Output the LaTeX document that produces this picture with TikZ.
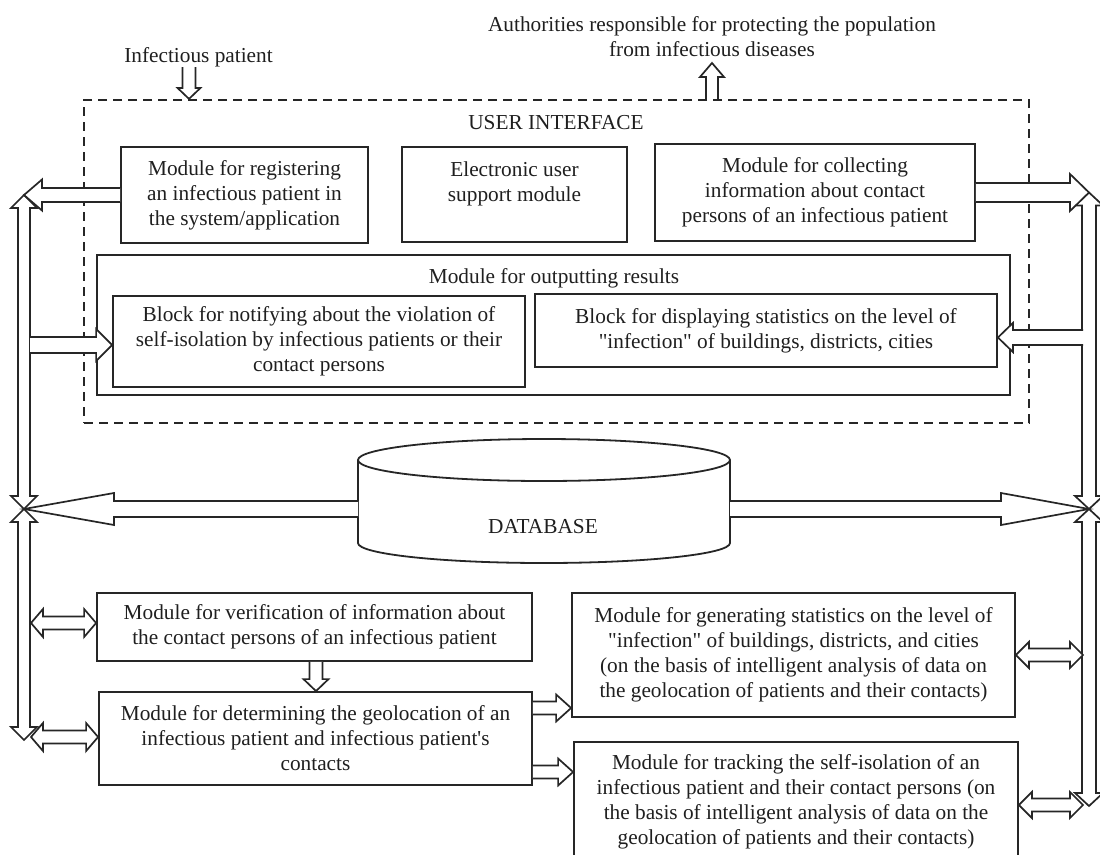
\documentclass[tikz,border=0pt]{standalone}
\usepackage{fontspec}
\setmainfont{Liberation Serif}[Ligatures=TeXOff]
\usetikzlibrary{calc}
\newcommand\figfont{\fontsize{21.3}{25}\selectfont}
\newcommand\arwpt[2]{([shift={(\p1)},rotate=\n1]#1,#2)}
\begin{document}
\begin{tikzpicture}[x=1pt,y=-1pt,
  box/.style={draw=black!85, line width=1.8pt, inner sep=0pt, align=center, font=\figfont, text=black!88},
  txt/.style={inner sep=0pt, align=center, font=\figfont, text=black!88},
  dbline/.style={draw=black!85, line width=1.8pt},
  ashaft/.store in=\ashaft, ahead/.store in=\ahead, alen/.store in=\alen,
  ashaft=7, ahead=15, alen=16,
  blk/.style={draw=black!85, line width=1.7pt, fill=white, line join=miter},
  onearrow/.style={blk, to path={let \p1=(\tikztostart), \p2=(\tikztotarget),
     \n1={atan2(\y2-\y1,\x2-\x1)}, \n2={veclen(\x2-\x1,\y2-\y1)} in
     \arwpt{0pt}{\ashaft pt} -- \arwpt{\n2-\alen pt}{\ashaft pt} -- \arwpt{\n2-\alen pt}{\ahead pt}
     -- \arwpt{\n2+0pt}{0pt} -- \arwpt{\n2-\alen pt}{-\ahead pt} -- \arwpt{\n2-\alen pt}{-\ashaft pt}
     -- \arwpt{0pt}{-\ashaft pt}}},
  twoarrow/.style={blk, to path={let \p1=(\tikztostart), \p2=(\tikztotarget),
     \n1={atan2(\y2-\y1,\x2-\x1)}, \n2={veclen(\x2-\x1,\y2-\y1)} in
     \arwpt{\alen pt}{\ashaft pt} -- \arwpt{\n2-\alen pt}{\ashaft pt} -- \arwpt{\n2-\alen pt}{\ahead pt}
     -- \arwpt{\n2+0pt}{0pt} -- \arwpt{\n2-\alen pt}{-\ahead pt} -- \arwpt{\n2-\alen pt}{-\ashaft pt}
     -- \arwpt{\alen pt}{-\ashaft pt} -- \arwpt{\alen pt}{-\ahead pt} -- \arwpt{0pt}{0pt}
     -- \arwpt{\alen pt}{\ahead pt} -- cycle}}
]
\useasboundingbox (0,0) rectangle (1100,854);
\clip (0,0) rectangle (1100,854);

% ---------- top texts ----------
\node[txt] (auth) at (712,37) {Authorities responsible for protecting the population\\from infectious diseases};
\node[txt] (ip) at (198.5,57) {Infectious patient};

% ---------- user interface ----------
\node[draw=black!85, line width=2.2pt, dash pattern=on 9pt off 6pt, inner sep=0pt,
      minimum width=945pt, minimum height=323pt] (ui) at (556.5,261.5) {};
\node[txt] (uit) at (556,123) {USER INTERFACE};
\node[box, minimum width=247pt, minimum height=96pt] (reg) at (244.5,195)
  {Module for registering\\an infectious patient in\\the system/application};
\node[box, minimum width=225pt, minimum height=95pt] (eus) at (514.5,194.5) {};
\node[txt] (eust) at (514.5,183.5) {Electronic user\\support module};
\node[box, minimum width=320pt, minimum height=97pt] (col) at (815,192.5)
  {Module for collecting\\information about contact\\persons of an infectious patient};
\node[box, minimum width=913pt, minimum height=140pt] (out) at (553.5,325) {};
\node[txt] (outt) at (554,278) {Module for outputting results};
\node[box, minimum width=412pt, minimum height=91pt] (notif) at (319,341.5)
  {Block for notifying about the violation of\\self-isolation by infectious patients or their\\contact persons};
\node[box, minimum width=462pt, minimum height=73pt] (disp) at (766,330.5)
  {Block for displaying statistics on the level of\\"infection" of buildings, districts, cities};

% ---------- database ----------
\draw[dbline] (358,460) -- (358,543) arc[start angle=180, end angle=360, x radius=186pt, y radius=20pt] -- (730,460);
\draw[dbline] (544,460) ellipse[x radius=186pt, y radius=21pt];
\node[txt] (db) at (543,527) {DATABASE};
\coordinate (dbL) at (358,509);
\coordinate (dbR) at (730,509);

% ---------- lower modules ----------
\node[box, minimum width=435pt, minimum height=68pt] (ver) at (314.5,627)
  {Module for verification of information about\\the contact persons of an infectious patient};
\node[box, minimum width=433pt, minimum height=93pt] (det) at (315.5,738.5)
  {Module for determining the geolocation of an\\infectious patient and infectious patient's\\contacts};
\node[box, minimum width=443pt, minimum height=124pt] (gen) at (793.5,655)
  {Module for generating statistics on the level of\\"infection" of buildings, districts, and cities\\(on the basis of intelligent analysis of data on\\the geolocation of patients and their contacts)};
\node[box, minimum width=444pt, minimum height=120pt, anchor=north] (trk) at (796,741)
  {Module for tracking the self-isolation of an\\infectious patient and their contact persons (on\\the basis of intelligent analysis of data on the\\geolocation of patients and their contacts)};

% ---------- coordinates ----------
\coordinate (jL) at (24,509);
\coordinate (jR) at (1089,509);
\coordinate (tL) at (24,195);
\coordinate (tR) at (col.east -| jR);
\coordinate (bL) at (24,740);
\coordinate (bR) at (1089,806);
\coordinate (ipa) at (189,67);
\coordinate (aa) at (712,63);
\coordinate (nL) at (30,345);
\coordinate (dR) at (1083,337.5);
\coordinate (vL) at (31,623);
\coordinate (dL) at (31,737);
\coordinate (vd) at (316,0);
\coordinate (y708) at (0,708);
\coordinate (y772) at (0,772);
\coordinate (y805) at (0,805);
\coordinate (rvx) at (1083,0);

% ---------- vertical buses ----------
\draw[twoarrow, ashaft=6, ahead=13, alen=13] (jL) to (tL);
\draw[twoarrow, ashaft=6, ahead=13, alen=13] (jL) to (bL);
\draw[twoarrow, ashaft=7, ahead=14, alen=13] (jR) to (tR);
\draw[twoarrow, ashaft=7, ahead=14, alen=13] (jR) to (bR);

% ---------- arrows ----------
\draw[onearrow, ashaft=6.5, ahead=11.5, alen=11] (ipa) to (ipa |- ui.north);
\draw[onearrow, ashaft=6, ahead=12, alen=14] (aa |- ui.north) to (aa);
\draw[onearrow, ashaft=7, ahead=15.5, alen=18] (reg.west) to (tL);
\draw[onearrow, ashaft=9.5, ahead=18.5, alen=19] (col.east) to (tR);
\draw[onearrow, ashaft=8, ahead=16, alen=16] (nL) to (nL -| notif.west);
\draw[onearrow, ashaft=7.5, ahead=14.5, alen=15] (dR) to (dR -| disp.east);
\draw[onearrow, ashaft=8, ahead=16, alen=90] (dbL) to (jL);
\draw[onearrow, ashaft=8, ahead=16, alen=88] (dbR) to (jR);

\draw[twoarrow, ashaft=6.5, ahead=14, alen=12] (vL) to (vL -| ver.west);
\draw[twoarrow, ashaft=6.5, ahead=14, alen=12] (dL) to (dL -| det.west);
\draw[onearrow, ashaft=6.5, ahead=12.5, alen=12] (vd |- ver.south) to (vd |- det.north);
\draw[onearrow, ashaft=6.5, ahead=13.5, alen=15] (det.east |- y708) to (gen.west |- y708);
\draw[onearrow, ashaft=6.5, ahead=13.5, alen=15] (det.east |- y772) to (trk.west |- y772);
\draw[twoarrow, ashaft=6.5, ahead=13, alen=13] (gen.east) to (gen.east -| rvx);
\draw[twoarrow, ashaft=6.5, ahead=13, alen=13] (trk.east |- y805) to (rvx |- y805);
\end{tikzpicture}
\end{document}
